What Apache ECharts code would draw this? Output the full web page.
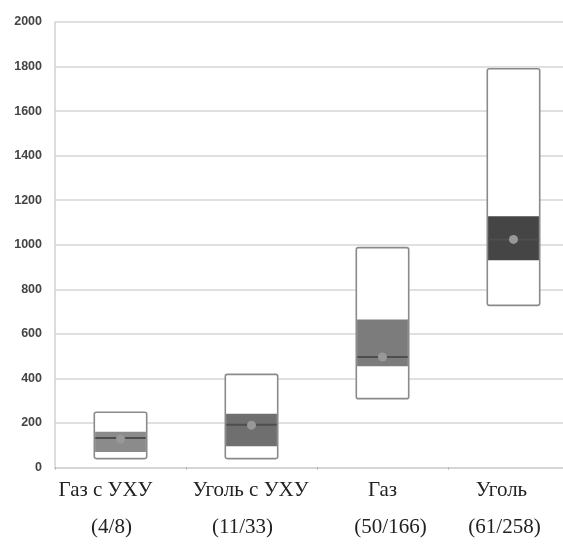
<!DOCTYPE html>
<html>
<head>
<meta charset="utf-8">
<script src="https://cdn.jsdelivr.net/npm/echarts@6/dist/echarts.min.js"></script>
<style>
  html, body { margin: 0; padding: 0; background: #fff; }
  #chart { width: 563px; height: 545px; }
</style>
</head>
<body>
<div id="chart"></div>
<script>
// категории и число станций
const categories = ['Газ с УХУ', 'Уголь с УХУ', 'Газ', 'Уголь']
const counts = ['(4/8)', '(11/33)', '(50/166)', '(61/258)']

// значения
const minVals = [40, 40, 309, 728]
const q1Vals = [70, 95, 454, 930]
const medianVals = [132, 192, 496, 1024]
const q3Vals = [160, 241, 664, 1128]
const maxVals = [248, 418, 987, 1790]
const meanVals = [128, 190, 496, 1024]

// заливка средней части
const fillColors = ['#8b8b8b', '#6f6f6f', '#7c7c7c', '#454545']
// в оригинале подписи набраны отдельно и чуть смещены от центров ящиков (px)
const nameShift = [-15, -1, 0, -12]
const countShift = [-9, -9, 8, -9]

const chart = echarts.init(document.getElementById('chart'))

const data = categories.map((c, i) =>
  [i, minVals[i], q1Vals[i], medianVals[i], q3Vals[i], maxVals[i], meanVals[i]])

function shiftPad(s) {
  return s < 0 ? [0, -2 * s, 0, 0] : [0, 0, 0, 2 * s]
}

const labelRich = {}
categories.forEach((c, i) => {
  labelRich['n' + i] = { padding: shiftPad(nameShift[i]) }
  labelRich['c' + i] = { padding: shiftPad(countShift[i]) }
})

function renderBox(params, api) {
  const i = api.value(0)
  const halfW = api.size([1, 0])[0] * 0.2
  const x = api.coord([i, 0])[0]
  const yMin = api.coord([i, api.value(1)])[1]
  const yQ1 = api.coord([i, api.value(2)])[1]
  const yMed = api.coord([i, api.value(3)])[1]
  const yQ3 = api.coord([i, api.value(4)])[1]
  const yMax = api.coord([i, api.value(5)])[1]
  const yMean = api.coord([i, api.value(6)])[1]
  return {
    type: 'group',
    children: [
      {
        type: 'rect',
        shape: { x: x - halfW, y: yMax, width: halfW * 2, height: yMin - yMax, r: 2 },
        style: { fill: '#fff', stroke: '#8a8a8a', lineWidth: 1.6 }
      },
      {
        type: 'rect',
        shape: { x: x - halfW + 0.8, y: yQ3, width: halfW * 2 - 1.6, height: yQ1 - yQ3 },
        style: { fill: fillColors[i] }
      },
      {
        type: 'line',
        shape: { x1: x - halfW + 1, y1: yMed, x2: x + halfW - 1, y2: yMed },
        style: { stroke: '#4e4e4e', lineWidth: 2 }
      },
      {
        type: 'circle',
        shape: { cx: x, cy: yMean, r: 4.5 },
        style: { fill: '#989898' }
      }
    ]
  }
}

chart.setOption({
  animation: false,
  grid: { left: 55, top: 22, width: 524, height: 445.5, outerBoundsMode: 'none' },
  xAxis: {
    type: 'category',
    data: categories,
    axisLine: { lineStyle: { color: '#d2d2d2', width: 1.5 } },
    axisTick: { show: true, interval: 0, length: 2, lineStyle: { color: '#aaa' } },
    axisLabel: {
      interval: 0,
      hideOverlap: false,
      margin: 4,
      color: '#222',
      fontFamily: 'Liberation Serif',
      fontSize: 21,
      lineHeight: 37,
      rich: labelRich,
      formatter: (v, idx) => '{n' + idx + '|' + v + '}\n{c' + idx + '|' + counts[idx] + '}'
    }
  },
  yAxis: {
    type: 'value',
    min: 0,
    max: 2000,
    interval: 200,
    axisLine: { show: true, lineStyle: { color: '#d2d2d2', width: 1.5 } },
    axisTick: { show: false },
    splitLine: { lineStyle: { color: '#d6d6d6', width: 1.5 } },
    axisLabel: {
      margin: 13,
      color: '#444',
      fontFamily: 'Liberation Sans',
      fontWeight: 'bold',
      fontSize: 12.5,
      formatter: (v) => String(v)
    }
  },
  series: [{
    type: 'custom',
    renderItem: renderBox,
    encode: { x: 0, y: [1, 2, 3, 4, 5, 6] },
    data: data
  }]
})
</script>
</body>
</html>
